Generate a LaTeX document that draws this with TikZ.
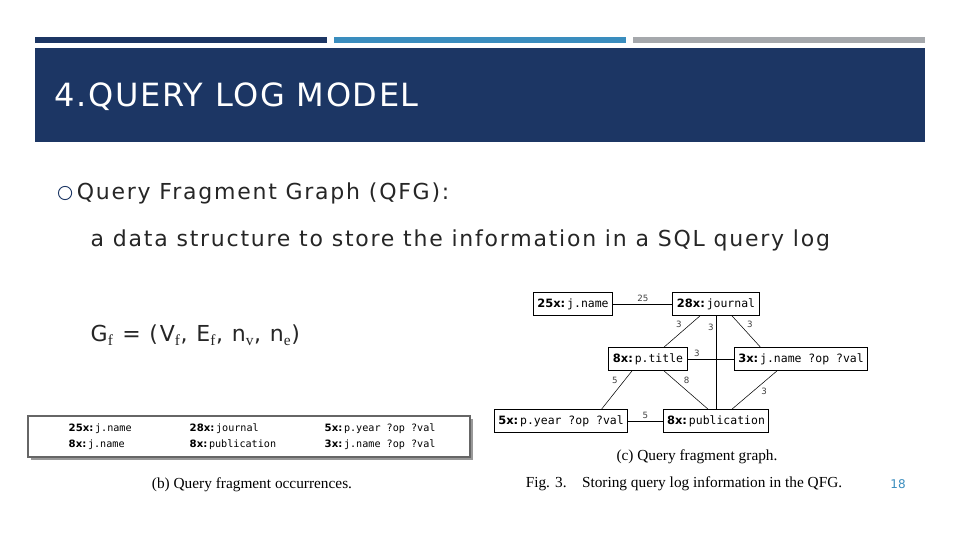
\documentclass[tikz,border=0pt]{standalone}
\usepackage{fontspec}
\setsansfont{DejaVu Sans}
\setmonofont{DejaVu Sans Mono}
\setmainfont{Liberation Serif}
\newfontfamily\bodyfont[LetterSpace=8]{DejaVu Sans}
\newfontfamily\titlefont[LetterSpace=5]{DejaVu Sans}
\usetikzlibrary{positioning}
\definecolor{navy}{HTML}{1C3664}
\definecolor{steel}{HTML}{3A8DBE}
\definecolor{bargray}{HTML}{A5A8AC}
\newcommand{\frag}[2]{{\sffamily\bfseries #1x:}\,\texttt{#2}}
\begin{document}
\begin{tikzpicture}
  [
    x=0.75pt, y=-0.75pt,
    fragbox/.style = {draw, shape=rectangle, line width=0.8pt, inner sep=3pt, minimum height=17pt, font=\fontsize{8.6}{10}\selectfont, fill=white},
    weight/.style = {font=\sffamily\fontsize{6.5}{7}\selectfont, text=black!75, inner sep=1.5pt},
    body/.style = {anchor=west, font=\bodyfont\fontsize{16.5}{20}\selectfont, text=black!85},
    cell/.style = {anchor=west, font=\fontsize{7.6}{9}\selectfont},
  ]
  \useasboundingbox (0,0) rectangle (960,540);
  \fill[white] (0,0) rectangle (960,540);

  % bars and title
  \fill[navy] (35,37) rectangle (327,43);
  \fill[steel] (334,37) rectangle (626,43);
  \fill[bargray] (633,37) rectangle (925,43);
  \fill[navy] (35,48) rectangle (925,142);
  \node[anchor=west, text=white, font=\titlefont\fontsize{24}{30}\selectfont] (title) at (50,97) {4.QUERY LOG MODEL};

  % text
  \node[anchor=west, draw=navy, circle, line width=0.7pt, inner sep=3.5pt] (bul) at (58,193) {};
  \node[body, right=0pt of bul] (qfg) {Query Fragment Graph (QFG):};
  \node[body] (desc) at (86,240) {a data structure to store the information in a SQL query log};
  \node[body] (gf) at (86,335) {G$_{\mathrm f}$ = (V$_{\mathrm f}$, E$_{\mathrm f}$, n$_{\mathrm v}$, n$_{\mathrm e}$)};

  % fragment occurrences
  \fill[black!40] (31,419) rectangle (473,460);
  \node[draw=black!60, fill=white, minimum width=442*0.75pt, minimum height=41*0.75pt, line width=0.8pt] (occ) at (249,436.5) {};
  \node[cell] (o1) at (64,429) {\frag{25}{j.name}};
  \node[cell] (o2) at (185,429) {\frag{28}{journal}};
  \node[cell] (o3) at (320,429) {\frag{5}{p.year ?op ?val}};
  \node[cell] (o4) at (64,445) {\frag{8}{j.name}};
  \node[cell] (o5) at (185,445) {\frag{8}{publication}};
  \node[cell] (o6) at (320,445) {\frag{3}{j.name ?op ?val}};
  \node[font=\fontsize{11.5}{13}\selectfont] (capb) at (252,485) {(b) Query fragment occurrences.};

  % query fragment graph
  \node[fragbox] (jname) at (573,304) {\frag{25}{j.name}};
  \node[fragbox] (journal) at (716,304) {\frag{28}{journal}};
  \node[fragbox] (ptitle) at (648,359) {\frag{8}{p.title}};
  \node[fragbox] (jnameop) at (801,359) {\frag{3}{j.name ?op ?val}};
  \node[fragbox] (pyear) at (561,421) {\frag{5}{p.year ?op ?val}};
  \node[fragbox] (publ) at (716,421) {\frag{8}{publication}};

  \draw (jname) -- node[weight, above] {25} (journal);
  \draw (ptitle) -- node[weight, above, pos=0.2] {3} (jnameop);
  \draw (journal.south) -- node[weight, left, pos=0.12] {3} (publ.north);
  \draw ([xshift=-12pt]journal.south) -- node[weight, above left, pos=0.45] {3} ([xshift=12pt]ptitle.north);
  \draw ([xshift=12pt]journal.south) -- node[weight, above right, pos=0.45] {3} ([xshift=20pt]jnameop.north west);
  \draw ([xshift=-12pt]ptitle.south) -- node[weight, above left, pos=0.4] {5} ([xshift=-20pt]pyear.north east);
  \draw ([xshift=12pt]ptitle.south) -- node[weight, above right, pos=0.4] {8} ([xshift=-6pt]publ.north);
  \draw ([xshift=-18pt]jnameop.south) -- node[weight, below right, pos=0.4] {3} ([xshift=12pt]publ.north);
  \draw (pyear) -- node[weight, above] {5} (publ);

  \node[font=\fontsize{11.5}{13}\selectfont] (capc) at (697,457) {(c) Query fragment graph.};
  \node[font=\fontsize{11.5}{13}\selectfont] (fig) at (684,484) {Fig. 3.\quad Storing query log information in the QFG.};
  \node[font=\sffamily\fontsize{9}{11}\selectfont, text=steel] (pnum) at (898,484) {18};
\end{tikzpicture}
\end{document}
